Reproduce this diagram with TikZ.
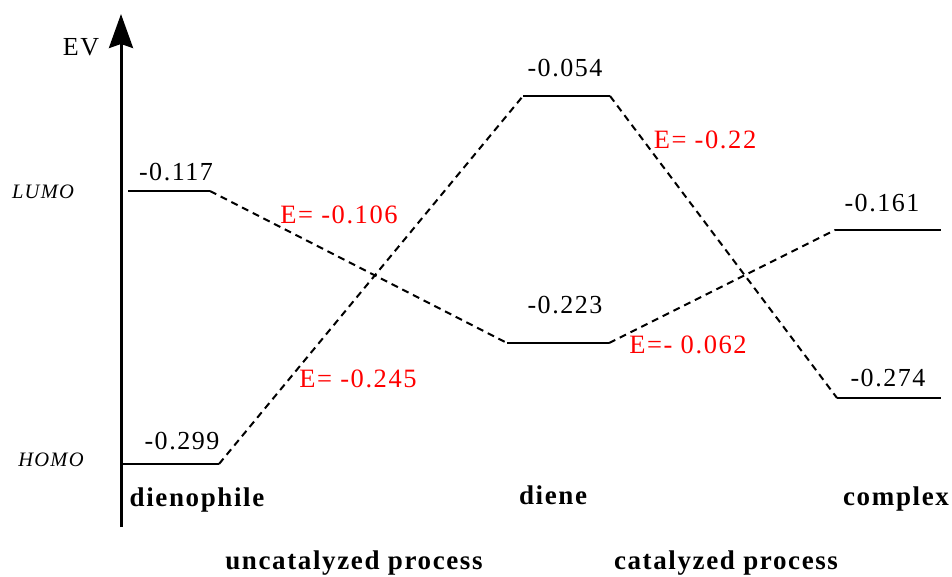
\documentclass[tikz,border=0pt]{standalone}
\usepackage{fontspec}
\setmainfont{Liberation Serif}[LetterSpace=6]
\usetikzlibrary{arrows.meta}
\tikzset{
    level/.style={line width=2.4pt},
    link/.style={line width=2pt, dash pattern=on 7pt off 5pt},
    val/.style={font=\fontsize{26}{30}\selectfont},
    gap/.style={font=\fontsize{26.5}{30}\selectfont, text=red},
    mol/.style={font=\fontsize{27}{31}\selectfont\bfseries},
    orb/.style={font=\fontsize{20.5}{24}\selectfont\itshape}
}
\begin{document}
\begin{tikzpicture}[x=1pt,y=-1pt]
    \useasboundingbox (0,0) rectangle (952,576);
    % Coordinate
    \coordinate (ax0) at (121,527);
    \coordinate (ax1) at (121,14);
    \coordinate (dpL1) at (128,191);  \coordinate (dpL2) at (210,191);
    \coordinate (dpH1) at (122,464);  \coordinate (dpH2) at (219,464);
    \coordinate (dnL1) at (523,96);   \coordinate (dnL2) at (610,96);
    \coordinate (dnH1) at (507,343);  \coordinate (dnH2) at (609,343);
    \coordinate (cxL1) at (835,230);  \coordinate (cxL2) at (941,230);
    \coordinate (cxH1) at (837,398);  \coordinate (cxH2) at (941,398);
    % Asse
    \draw [line width=3pt, -{Stealth[length=34pt,width=24pt,inset=4pt]}] (ax0) -- (ax1);
    \node (ev) at (81,47) [val] {EV};
    \node (lumo) at (43,192) [orb] {LUMO};
    \node (homo) at (51,460) [orb] {HOMO};
    % Livelli
    \draw [level] (dpL1) -- (dpL2);
    \draw [level] (dpH1) -- (dpH2);
    \draw [level] (dnL1) -- (dnL2);
    \draw [level] (dnH1) -- (dnH2);
    \draw [level] (cxL1) -- (cxL2);
    \draw [level] (cxH1) -- (cxH2);
    % Linee
    \draw [link] (dpL2) -- (dnH1);
    \draw [link] (dpH2) -- (dnL1);
    \draw [link] (dnL2) -- (cxH1);
    \draw [link] (dnH2) -- (cxL1);
    % Valori
    \node (vdpL) at (176,172) [val] {-0.117};
    \node (vdpH) at (182,441) [val] {-0.299};
    \node (vdnL) at (565,68) [val] {-0.054};
    \node (vdnH) at (565,305) [val] {-0.223};
    \node (vcxL) at (882,203) [val] {-0.161};
    \node (vcxH) at (888,378) [val] {-0.274};
    \node (e1) at (339,215) [gap] {E= -0.106};
    \node (e2) at (358,379) [gap] {E= -0.245};
    \node (e3) at (705,140) [gap] {E= -0.22};
    \node (e4) at (688,345) [gap] {E=- 0.062};
    % Writing space
    \node (dienophile) at (197,500) [mol] {dienophile};
    \node (diene) at (553,495) [mol] {diene};
    \node (complex) at (896,499) [mol] {complex};
    \node (uncat) at (354,563) [mol] {uncatalyzed process};
    \node (cat) at (726,563) [mol] {catalyzed process};
\end{tikzpicture}
\end{document}
